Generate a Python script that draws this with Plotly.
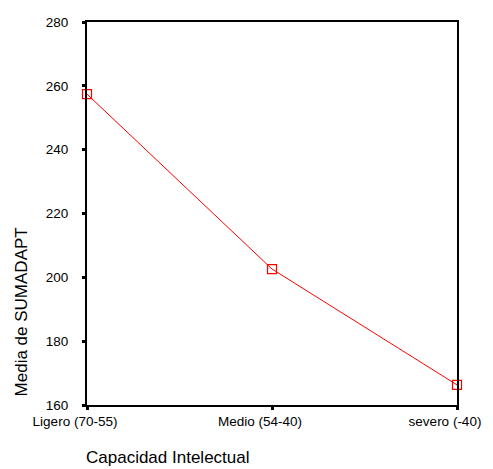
import plotly.graph_objects as go

categories = ["Ligero (70-55)", "Medio (54-40)", "severo (-40)"]
means = [257.4, 202.6, 166.3]
y_ticks = [160, 180, 200, 220, 240, 260, 280]

FONT = "Liberation Sans, Arial, sans-serif"

fig = go.Figure()
fig.add_trace(go.Scatter(
    x=categories, y=means, mode="lines+markers",
    line=dict(color="#ff0000", width=1),
    marker=dict(symbol="square-open", size=9, color="#ff0000", line=dict(width=1.2, color="#ff0000")),
    cliponaxis=False, showlegend=False,
))

fig.update_layout(
    width=493, height=469,
    margin=dict(l=87, r=28, t=22, b=64),
    paper_bgcolor="white", plot_bgcolor="white",
    font=dict(family=FONT, color="black", size=13),
    xaxis=dict(
        type="category", range=[0, 2], showgrid=False, zeroline=False,
        showline=True, linecolor="black", linewidth=2, mirror=True,
        ticks="outside", ticklen=3, tickwidth=3, tickcolor="black",
        tickfont=dict(family=FONT, size=13.5, color="black"),
        ticklabelshift=-12,
    ),
    yaxis=dict(
        range=[160, 280], tickvals=y_ticks, showgrid=False, zeroline=False,
        showline=True, linecolor="black", linewidth=2, mirror=True,
        ticks="outside", ticklen=3, tickwidth=3, tickcolor="black",
        tickfont=dict(family=FONT, size=13.5, color="black"),
        ticklabelstandoff=11,
    ),
    annotations=[
        dict(text="Capacidad Intelectual", xref="paper", yref="paper",
             x=(170 - 87) / 378, y=-(457 - 405) / 383, xanchor="center", yanchor="middle",
             showarrow=False, font=dict(family=FONT, size=17, color="black")),
        dict(text="Media de SUMADAPT", xref="paper", yref="paper",
             x=-(87 - 20) / 378, y=(405 - 312) / 383, xanchor="center", yanchor="middle",
             textangle=-90, showarrow=False, font=dict(family=FONT, size=17, color="black")),
    ],
)

fig.write_html("out.html")
